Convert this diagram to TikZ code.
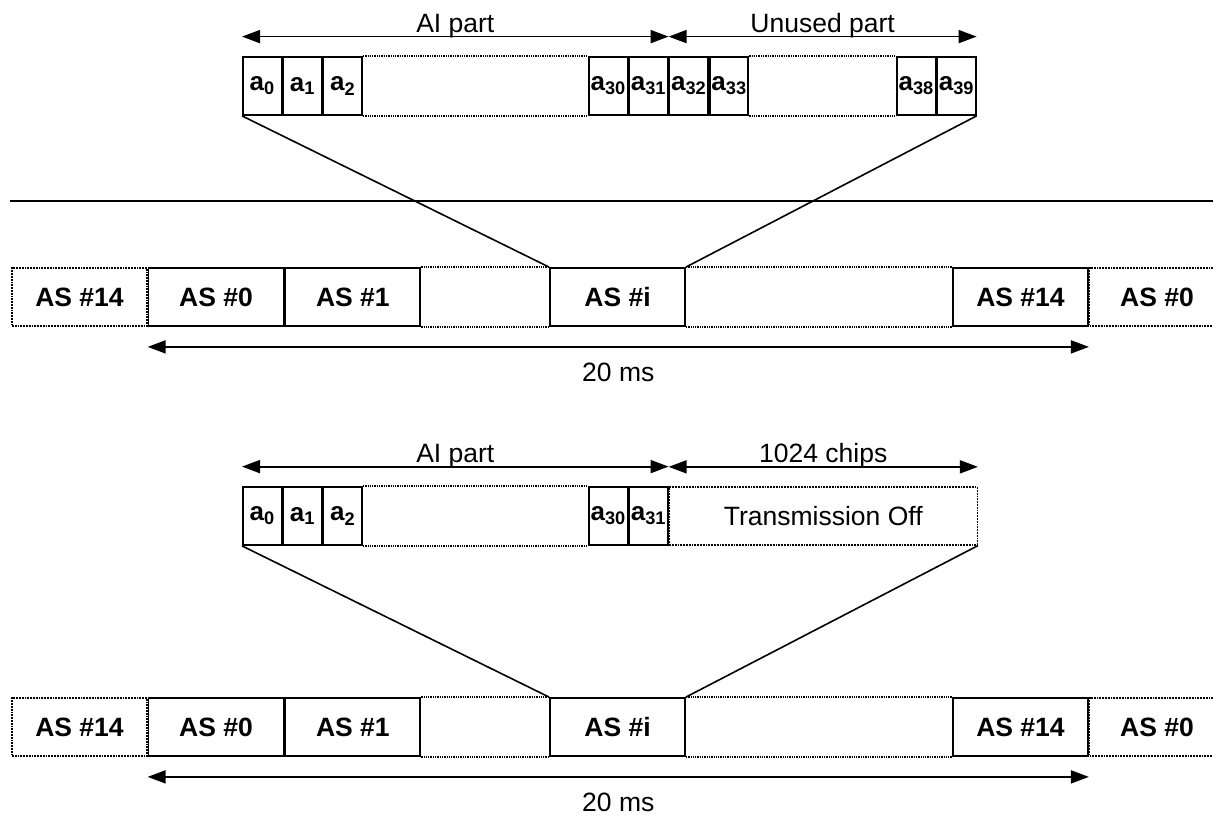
\documentclass[tikz,border=0pt]{standalone}
\usepackage{fontspec}
\setmainfont{Liberation Sans}
\usetikzlibrary{arrows.meta,positioning}

\begin{document}
\begin{tikzpicture}[
  x=1pt, y=-1pt,
  font=\fontsize{26.5}{30}\selectfont,
  box/.style    = {draw=black, line width=1.8pt, inner sep=0pt, fill=white},
  cell/.style   = {box, minimum width=38.5pt, minimum height=58pt,
                   font=\fontsize{26}{30}\selectfont\bfseries},
  slot/.style   = {box, minimum width=135pt, minimum height=58pt,
                   font=\fontsize{26.5}{30}\selectfont\bfseries},
  ghost/.style  = {slot, densely dotted, line width=1.3pt},
  offbox/.style = {box, densely dotted, line width=1.3pt,
                   minimum width=308pt, minimum height=58pt},
  gap/.style    = {draw=black, densely dotted, line width=1.3pt},
  fan/.style    = {draw=black, line width=1.6pt},
  dim/.style    = {{Triangle[length=18pt,width=13pt]}-{Triangle[length=18pt,width=13pt]},
                   draw=black, line width=1.8pt},
]
\useasboundingbox (0,0) rectangle (1213,834);

% ---- top: AI part / unused part --------------------------------------------
\node[cell, anchor=west] (ta0) at (242,86) {a\textsubscript{0}};
\node[cell, right=0pt of ta0]  (ta1)  {a\textsubscript{1}};
\node[cell, right=0pt of ta1]  (ta2)  {a\textsubscript{2}};
\node[cell, anchor=west] (ta30) at (588,86) {a\textsubscript{30}};
\node[cell, right=0pt of ta30] (ta31) {a\textsubscript{31}};
\node[cell, right=0pt of ta31] (ta32) {a\textsubscript{32}};
\node[cell, right=0pt of ta32] (ta33) {a\textsubscript{33}};
\node[cell, anchor=west] (ta38) at (896,86) {a\textsubscript{38}};
\node[cell, right=0pt of ta38] (ta39) {a\textsubscript{39}};

\draw[gap] (ta2.north east)  -- (ta30.north west);
\draw[gap] (ta2.south east)  -- (ta30.south west);
\draw[gap] (ta33.north east) -- (ta38.north west);
\draw[gap] (ta33.south east) -- (ta38.south west);

\draw[dim] ([yshift=19.5pt]ta0.north west) -- node[anchor=base, yshift=4.5pt] {AI part}
  ([yshift=19.5pt]ta31.north east);
\draw[dim] ([yshift=19.5pt]ta32.north west) -- node[anchor=base, yshift=4.5pt] {Unused part}
  ([yshift=19.5pt]ta39.north east);

\draw[line width=2pt] (10,201) -- (1213,201);

% ---- top: 20 ms frame ------------------------------------------------------
\node[ghost] (tr14a) at (79.5,297) {AS \#14};
\node[slot, right=0pt of tr14a] (tr0) {AS \#0};
\node[slot, right=0pt of tr0]   (tr1) {AS \#1};
\node[slot]  (tri)  at (617.5,297)  {AS \#i};
\node[slot]  (tr14) at (1020.5,297) {AS \#14};
\node[ghost, right=0pt of tr14] (tr0b) {AS \#0};

\draw[gap] (tr1.north east) -- (tri.north west);
\draw[gap] (tr1.south east) -- (tri.south west);
\draw[gap] (tri.north east) -- (tr14.north west);
\draw[gap] (tri.south east) -- (tr14.south west);

\draw[fan] (ta0.south west)  -- (tri.north west);
\draw[fan] (ta39.south east) -- (tri.north east);

\draw[dim] ([yshift=-20pt]tr0.south west) -- node[anchor=base, yshift=-35pt] {20 ms}
  ([yshift=-20pt]tr14.south east);

% ---- bottom: AI part / transmission off ------------------------------------
\node[cell, anchor=west] (ba0) at (242,516) {a\textsubscript{0}};
\node[cell, right=0pt of ba0]  (ba1)  {a\textsubscript{1}};
\node[cell, right=0pt of ba1]  (ba2)  {a\textsubscript{2}};
\node[cell, anchor=west] (ba30) at (588,516) {a\textsubscript{30}};
\node[cell, right=0pt of ba30] (ba31) {a\textsubscript{31}};
\node[offbox, right=0pt of ba31] (boff) {Transmission Off};

\draw[gap] (ba2.north east) -- (ba30.north west);
\draw[gap] (ba2.south east) -- (ba30.south west);

\draw[dim] ([yshift=19.5pt]ba0.north west) -- node[anchor=base, yshift=4.5pt] {AI part}
  ([yshift=19.5pt]ba31.north east);
\draw[dim] ([yshift=19.5pt]boff.north west) -- node[anchor=base, yshift=4.5pt] {1024 chips}
  ([yshift=19.5pt]boff.north east);

% ---- bottom: 20 ms frame ---------------------------------------------------
\node[ghost] (br14a) at (79.5,727) {AS \#14};
\node[slot, right=0pt of br14a] (br0) {AS \#0};
\node[slot, right=0pt of br0]   (br1) {AS \#1};
\node[slot]  (bri)  at (617.5,727)  {AS \#i};
\node[slot]  (br14) at (1020.5,727) {AS \#14};
\node[ghost, right=0pt of br14] (br0b) {AS \#0};

\draw[gap] (br1.north east) -- (bri.north west);
\draw[gap] (br1.south east) -- (bri.south west);
\draw[gap] (bri.north east) -- (br14.north west);
\draw[gap] (bri.south east) -- (br14.south west);

\draw[fan] (ba0.south west)  -- (bri.north west);
\draw[fan] (boff.south east) -- (bri.north east);

\draw[dim] ([yshift=-20pt]br0.south west) -- node[anchor=base, yshift=-35pt] {20 ms}
  ([yshift=-20pt]br14.south east);

\end{tikzpicture}
\end{document}
